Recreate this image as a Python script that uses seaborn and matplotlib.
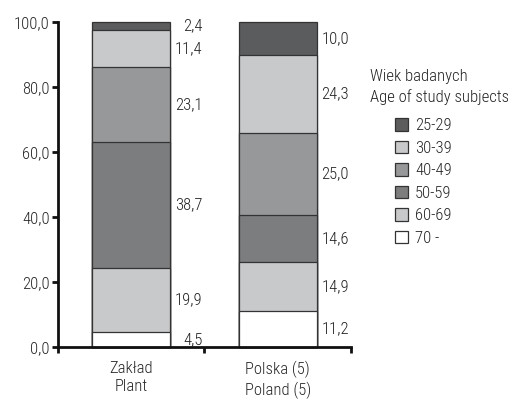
import matplotlib
matplotlib.use("Agg")
import matplotlib.pyplot as plt
import seaborn as sns
import pandas as pd
import numpy as np

# Data (percent of subjects in each age group), listed top of bar -> bottom
sites = ["Zakład\nPlant", "Polska (5)\nPoland (5)"]
age_groups = ["25-29", "30-39", "40-49", "50-59", "60-69", "70 -"]
zaklad_pct = [2.4, 11.4, 23.1, 38.7, 19.9, 4.5]
polska_pct = [10.0, 24.3, 25.0, 14.6, 14.9, 11.2]
y_ticks = [0, 20, 40, 60, 80, 100]
legend_title = "Wiek badanych\nAge of study subjects"

colors = ["#5b5c5e", "#c8c9cb", "#97989a", "#7c7d7f", "#c8c9cb", "#ffffff"]


def fmt(v):
    return f"{v:.1f}".replace(".", ",")


# build cumulative tops so overlapping bars look stacked
rows = []
for site, vals in zip(sites, [zaklad_pct, polska_pct]):
    for i, grp in enumerate(age_groups):
        top = sum(vals[i:])
        rows.append({"site": site, "age": grp, "value": vals[i],
                     "top": top, "mid": top - vals[i] / 2})
df = pd.DataFrame(rows)

sns.set_style("ticks")
plt.rcParams["font.family"] = ["Roboto Condensed", "DejaVu Sans"]
plt.rcParams["font.stretch"] = "condensed"
plt.rcParams["font.weight"] = "light"
plt.rcParams["font.size"] = 12

fig, ax = plt.subplots(figsize=(5.08, 4.0), dpi=100)
fig.subplots_adjust(left=0.114, right=0.691, bottom=0.1325, top=0.945)

bar_w = 0.53
sns.barplot(
    data=df, x="site", y="top", hue="age",
    order=sites, hue_order=age_groups,
    palette=dict(zip(age_groups, colors)),
    dodge=False, width=bar_w, saturation=1, errorbar=None,
    edgecolor="#333333", linewidth=0.9, ax=ax,
)
for p in ax.patches:
    p.set_clip_on(False)

# value labels to the right of each segment
for _, r in df.iterrows():
    xi = sites.index(r["site"])
    ax.text(xi + bar_w / 2 + 0.22, r["mid"], fmt(r["value"]),
            ha="right", va="center", fontsize=12, color="#222222")

ax.set_xlim(-0.5, 1.5)
ax.set_ylim(0, 100)
ax.set_yticks(y_ticks)
ax.set_yticklabels([fmt(v) for v in y_ticks])
ax.set_xticks([-0.5, 0.5, 1.5])
ax.set_xticklabels(["", "", ""])
ax.set_xticks([0, 1], minor=True)
ax.set_xticklabels(sites, minor=True, linespacing=1.25)
ax.tick_params(axis="x", which="minor", length=0, pad=10)
ax.tick_params(axis="both", which="major", length=4, width=2, color="#111111")
ax.tick_params(axis="y", pad=2)
ax.set_xlabel("")
ax.set_ylabel("")
sns.despine(ax=ax)
for s in ["left", "bottom"]:
    ax.spines[s].set_linewidth(2)
    ax.spines[s].set_color("#111111")

# legend: title as separate text, handles indented
sns.move_legend(
    ax, loc="upper left", bbox_to_anchor=(0.778, 0.705),
    bbox_transform=fig.transFigure, frameon=False, title=None,
    handlelength=0.78, handleheight=0.78, handletextpad=0.42,
    labelspacing=0.45, borderpad=0, borderaxespad=0, fontsize=12,
)
fig.text(0.728, 0.828, legend_title, ha="left", va="top",
         fontsize=12, linespacing=1.4, color="#222222")

plt.savefig("out.png", dpi=100)
plt.close()
